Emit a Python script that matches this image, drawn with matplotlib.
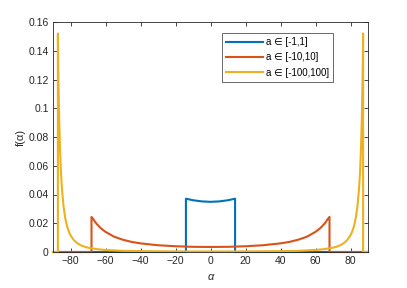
import matplotlib
matplotlib.use('Agg')
import matplotlib.pyplot as plt

plt.rcParams['font.family'] = ['Liberation Sans', 'DejaVu Sans']

# valores: f(alpha) para cada rango de a
alpha_1 = [-90, -14.04, -14.04, -10, -5, 0, 5, 10, 14.04, 14.04, 90]
f_1 = [0, 0, 0.0371, 0.0360, 0.0352, 0.0349, 0.0352, 0.0360, 0.0371, 0, 0]

alpha_10 = [-90, -68.0, -68.0, -67, -66, -65, -63, -60, -55, -50, -45, -40, -30, -20, -10, 0,
            10, 20, 30, 40, 45, 50, 55, 60, 63, 65, 66, 67, 68.0, 68.0, 90]
f_10 = [0, 0, 0.0244, 0.0229, 0.0211, 0.0195, 0.0169, 0.0140, 0.0106, 0.0085, 0.0070, 0.0060,
        0.0047, 0.0040, 0.0036, 0.0035,
        0.0036, 0.0040, 0.0047, 0.0060, 0.0070, 0.0085, 0.0106, 0.0140, 0.0169, 0.0195, 0.0211,
        0.0229, 0.0244, 0, 0]

alpha_100 = [-90, -87.2, -87.2, -87, -86.5, -86, -85.5, -85, -84, -83, -82, -81, -80, -78, -76,
             -74, -72, -70, -65, -60, -50, -40, -20, 0,
             20, 40, 50, 60, 65, 70, 72, 74, 76, 78, 80, 81, 82, 83, 84, 85, 85.5, 86, 86.5, 87,
             87.2, 87.2, 90]
f_100 = [0, 0, 0.152, 0.127, 0.094, 0.072, 0.057, 0.046, 0.032, 0.0235, 0.018, 0.0143, 0.0116,
         0.0081, 0.0060, 0.0046, 0.0037, 0.0030, 0.0020, 0.0014, 0.0008, 0.0006, 0.0004, 0.00035,
         0.0004, 0.0006, 0.0008, 0.0014, 0.0020, 0.0030, 0.0037, 0.0046, 0.0060, 0.0081, 0.0116,
         0.0143, 0.018, 0.0235, 0.032, 0.046, 0.057, 0.072, 0.094, 0.127, 0.152, 0, 0]

labels = ['a \u2208 [-1,1]', 'a \u2208 [-10,10]', 'a \u2208 [-100,100]']
colors = ['#0072BD', '#D95319', '#EDB120']

x_ticks = [-80, -60, -40, -20, 0, 20, 40, 60, 80]
y_ticks = [0, 0.02, 0.04, 0.06, 0.08, 0.1, 0.12, 0.14, 0.16]
y_tick_labels = ['0', '0.02', '0.04', '0.06', '0.08', '0.1', '0.12', '0.14', '0.16']

fig = plt.figure(figsize=(4.07, 2.88), dpi=100)
ax = fig.add_axes([53 / 407, 1 - 252 / 288, 315 / 407, 230 / 288])

for xs, ys, lab, col in zip([alpha_1, alpha_10, alpha_100], [f_1, f_10, f_100], labels, colors):
    ax.plot(xs, ys, color=col, linewidth=1.5, label=lab, clip_on=False)

ax.set_xlim(-90, 90)
ax.set_ylim(0, 0.16)
ax.set_xticks(x_ticks)
ax.set_yticks(y_ticks)
ax.set_yticklabels(y_tick_labels)

gray = '#262626'
for s in ax.spines.values():
    s.set_color(gray)
    s.set_linewidth(0.6)
ax.tick_params(direction='in', top=True, right=True, length=3, width=0.6,
               colors=gray, labelsize=7.5, pad=3)

ax.set_xlabel('\u03b1', fontsize=8, color=gray, fontstyle='italic')
ax.set_ylabel('f(\u03b1)', fontsize=8, color=gray, labelpad=2)

leg = ax.legend(loc='upper right', bbox_to_anchor=(0.889, 0.952), fontsize=7,
                frameon=True, fancybox=False, handlelength=3.8, handletextpad=0.3,
                borderpad=0.4, labelspacing=0.55, borderaxespad=0)
leg.get_frame().set_edgecolor(gray)
leg.get_frame().set_linewidth(0.6)

fig.savefig('out.png', dpi=100)
